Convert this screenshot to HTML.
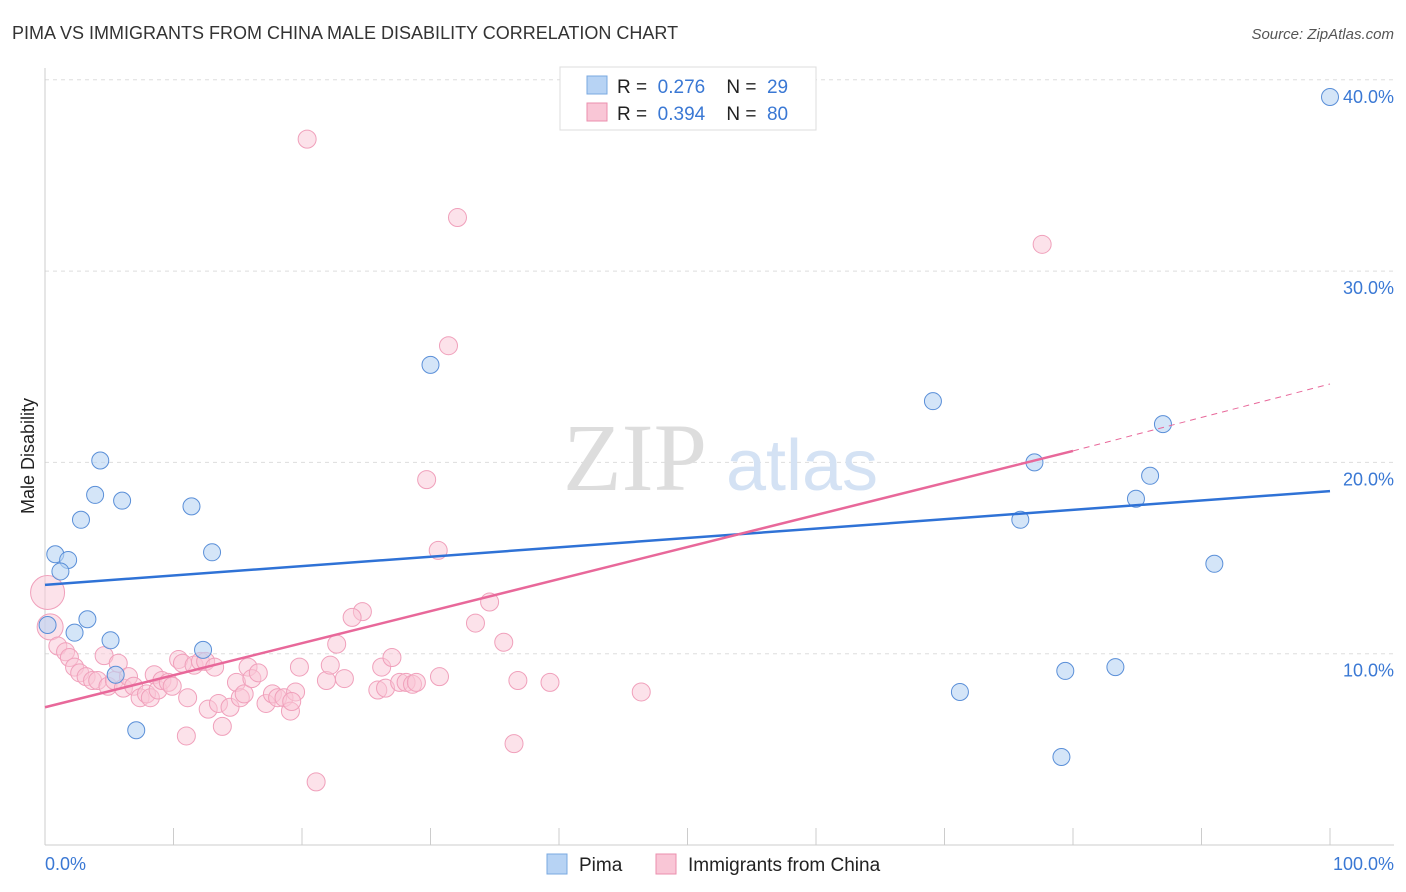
<!DOCTYPE html>
<html><head><meta charset="utf-8"><style>
body{margin:0;background:#fff;font-family:"Liberation Sans",sans-serif;}
svg{display:block}
</style></head><body>
<svg id="chart" width="1406" height="892">
<text x="12" y="39" font-size="18" fill="#333">PIMA VS IMMIGRANTS FROM CHINA MALE DISABILITY CORRELATION CHART</text>
<text x="1394" y="39" font-size="15" fill="#555" font-style="italic" text-anchor="end">Source: ZipAtlas.com</text>
<g id="grid"></g>
<g>
<text x="635" y="490" font-size="96" font-family="Liberation Serif,serif" fill="#ddd" text-anchor="middle">ZIP</text>
<text x="802" y="490" font-size="72" fill="#d4e2f4" text-anchor="middle">atlas</text>
</g>
<line x1="45" y1="68" x2="45" y2="845" stroke="#ccc"/>
<line x1="45" y1="845" x2="1394" y2="845" stroke="#ccc"/>
<g id="ticks"></g>
<g id="ylabels"></g>
<text x="45" y="870" font-size="18" fill="#3a78d4">0.0%</text>
<text x="1394" y="870" font-size="18" fill="#3a78d4" text-anchor="end">100.0%</text>
<text transform="translate(34,456) rotate(-90)" font-size="18" fill="#222" text-anchor="middle">Male Disability</text>
<g id="pink"></g>
<g id="blue"></g>
<g id="lines"></g>
<g>
<rect x="560" y="67" width="256" height="63" fill="#fff" stroke="#ddd"/>
<rect x="587" y="76" width="20" height="18" fill="#b7d3f4" stroke="#7aa8e0"/>
<rect x="587" y="103" width="20" height="18" fill="#f9c6d6" stroke="#eb8fae"/>
<text x="617" y="93" font-size="19" fill="#222" xml:space="preserve">R =  <tspan fill="#3a78d4">0.276</tspan>    N =  <tspan fill="#3a78d4">29</tspan></text>
<text x="617" y="120" font-size="19" fill="#222" xml:space="preserve">R =  <tspan fill="#3a78d4">0.394</tspan>    N =  <tspan fill="#3a78d4">80</tspan></text>
</g>
<g>
<rect x="547" y="854" width="20" height="20" fill="#b7d3f4" stroke="#7aa8e0"/>
<text x="579" y="871" font-size="19" fill="#222">Pima</text>
<rect x="656" y="854" width="20" height="20" fill="#f9c6d6" stroke="#eb8fae"/>
<text x="688" y="871" font-size="19" fill="#222">Immigrants from China</text>
</g>
</svg>
<script>
const yTicks=[10,20,30,40];
const yTickLabels=["10.0%","20.0%","30.0%","40.0%"];
const pimaX=[100,30,69.1,87.0,77.0,86.0,84.9,75.9,91.0,71.2,79.4,83.3,79.1,4.3,3.9,6.0,2.8,11.4,13.0,0.8,1.8,1.2,0.2,3.3,2.3,5.1,12.3,5.5,7.1];
const pimaY=[39.1,25.1,23.2,22.0,20.0,19.3,18.1,17.0,14.7,8.0,9.1,9.3,4.6,20.1,18.3,18.0,17.0,17.7,15.3,15.2,14.9,14.3,11.5,11.8,11.1,10.7,10.2,8.9,6.0];
const chinaX=[0.2,0.4,20.4,32.1,77.6,31.4,29.7,30.6,34.6,24.7,
23.9,33.5,35.7,22.7,1.0,1.6,1.9,2.3,2.7,3.2,
3.7,4.1,4.6,4.9,5.4,5.7,6.1,6.5,6.9,7.4,
7.9,8.2,8.5,8.8,9.1,9.6,9.9,10.4,10.7,11.1,
11.6,12.1,12.5,13.2,12.7,13.5,13.8,11.0,14.4,14.9,
15.2,15.5,15.8,16.1,16.6,17.2,17.7,18.1,18.6,19.1,
19.5,19.8,21.1,21.9,22.2,23.3,25.9,26.2,26.5,27.0,
27.6,28.1,28.6,28.9,30.7,36.8,39.3,36.5,46.4,19.2];
const chinaY=[13.2,11.4,36.9,32.8,31.4,26.1,19.1,15.4,12.7,12.2,
11.9,11.6,10.6,10.5,10.4,10.1,9.8,9.3,9.0,8.8,
8.6,8.6,9.9,8.3,8.6,9.5,8.2,8.8,8.3,7.7,
7.9,7.7,8.9,8.1,8.6,8.5,8.3,9.7,9.5,7.7,
9.4,9.6,9.6,9.3,7.1,7.4,6.2,5.7,7.2,8.5,
7.7,7.9,9.3,8.7,9.0,7.4,7.9,7.7,7.7,7.0,
8.0,9.3,3.3,8.6,9.4,8.7,8.1,9.3,8.2,9.8,
8.5,8.5,8.4,8.5,8.8,8.6,8.5,5.3,8.0,7.5];
const pimaLine=[13.6,18.5];
const chinaLine=[7.2,20.6,24.1];
const X=v=>45+v*12.85, Y=v=>845-v*19.13;
const NS="http://www.w3.org/2000/svg";
function mk(tag,attrs,parent){const e=document.createElementNS(NS,tag);for(const k in attrs)e.setAttribute(k,attrs[k]);document.getElementById(parent).appendChild(e);return e;}
yTicks.forEach((t,i)=>{
 const g=mk('line',{x1:45,x2:1394,y1:Y(t),y2:Y(t),stroke:'#ddd','stroke-dasharray':'4,4'},'grid');
 
 
 const l=mk('text',{x:1394,y:Y(t)+23,'font-size':18,fill:'#3a78d4','text-anchor':'end'},'ylabels');
 l.textContent=yTickLabels[i];
 
 
});
for(let i=0;i<=10;i++){
 const t=mk('line',{x1:X(i*10),x2:X(i*10),y1:828,y2:845,stroke:'#ccc'},'ticks');
 
 
}
chinaX.forEach((x,i)=>{
 const r=i<2?(i==0?17:13):9;
 const c=mk('circle',{cx:X(x),cy:Y(chinaY[i]),r:r,fill:'#f9c6d6','fill-opacity':0.5,stroke:'#f0a0bb','stroke-width':1},'pink');
 
 
});
pimaX.forEach((x,i)=>{
 const c=mk('circle',{cx:X(x),cy:Y(pimaY[i]),r:8.5,fill:'#b7d3f4','fill-opacity':0.6,stroke:'#5a8fd8','stroke-width':1},'blue');
 
 
});
const bl=mk('line',{x1:X(0),y1:Y(pimaLine[0]),x2:X(100),y2:Y(pimaLine[1]),stroke:'#2f72d6','stroke-width':2.5},'lines');


const pl=mk('line',{x1:X(0),y1:Y(chinaLine[0]),x2:X(80),y2:Y(chinaLine[1]),stroke:'#e8689a','stroke-width':2.5},'lines');


const pd=mk('line',{x1:X(80),y1:Y(chinaLine[1]),x2:X(100),y2:Y(chinaLine[2]),stroke:'#e8689a','stroke-width':1,'stroke-dasharray':'6,5'},'lines');


</script>
</body></html>
